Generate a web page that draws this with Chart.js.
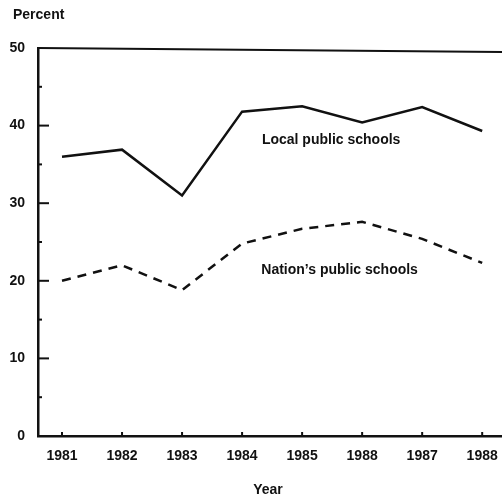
<!DOCTYPE html>
<html>
<head>
<meta charset="utf-8">
<script src="https://cdn.jsdelivr.net/npm/chart.js@4/dist/chart.umd.min.js"></script>
<style>
  body { margin: 0; background: #fff; }
  #line-chart { display: block; }
</style>
</head>
<body>
<canvas id="line-chart" width="502" height="498"></canvas>
<script>
// values
var years = ['1981', '1982', '1983', '1984', '1985', '1988', '1987', '1988'];
var localSchools = [36, 36.9, 31, 41.8, 42.5, 40.4, 42.4, 39.3];
var nationSchools = [20, 22, 18.8, 24.8, 26.7, 27.6, 25.4, 22.3];
var yTicks = [0, 10, 20, 30, 40, 50];

var FONT = '"Liberation Sans", Arial, sans-serif';
var INK = '#111';

function toPoints(arr) {
	return arr.map(function (v, i) { return { x: i, y: v }; });
}

// inward tick marks, top frame line and text labels
var decorations = {
	id: 'decorations',
	afterDraw: function (chart) {
		var ctx = chart.ctx;
		var area = chart.chartArea;
		var xs = chart.scales.x, ys = chart.scales.y;
		ctx.save();
		ctx.strokeStyle = INK;
		ctx.lineWidth = 2;
		ctx.beginPath();
		ctx.moveTo(area.left, area.top);
		ctx.lineTo(area.right, area.top + 4);
		ctx.stroke();

		ctx.lineWidth = 2;
		ys.ticks.forEach(function (t) {
			if (t.value === 0 || t.value === 50) return;
			var y = ys.getPixelForValue(t.value);
			var len = t.value % 10 === 0 ? 11 : 4;
			ctx.beginPath();
			ctx.moveTo(area.left, y);
			ctx.lineTo(area.left + len, y);
			ctx.stroke();
		});
		years.forEach(function (y, i) {
			var x = xs.getPixelForValue(i);
			ctx.beginPath();
			ctx.moveTo(x, area.bottom);
			ctx.lineTo(x, area.bottom - 4);
			ctx.stroke();
		});

		ctx.fillStyle = INK;
		ctx.textBaseline = 'middle';
		ctx.textAlign = 'left';
		ctx.font = 'bold 14px ' + FONT;
		ctx.fillText('Percent', 13, 15);
		ctx.fillText('Local public schools', xs.getPixelForValue(3.33), ys.getPixelForValue(38.1));
		ctx.fillText('Nation\u2019s public schools', xs.getPixelForValue(3.32), ys.getPixelForValue(21.4));
		ctx.textAlign = 'center';
		ctx.fillText('Year', 268, 490);
		ctx.restore();
	}
};

var chart = new Chart(document.getElementById('line-chart'), {
	type: 'line',
	data: {
		datasets: [
			{
				label: 'Local public schools',
				data: toPoints(localSchools),
				borderColor: INK,
				borderWidth: 2.5,
				pointRadius: 0,
				fill: false,
				tension: 0
			},
			{
				label: "Nation's public schools",
				data: toPoints(nationSchools),
				borderColor: INK,
				borderWidth: 2.5,
				borderDash: [9, 7],
				pointRadius: 0,
				fill: false,
				tension: 0
			}
		]
	},
	options: {
		responsive: false,
		animation: false,
		layout: { padding: { top: 48, right: 0, left: 0, bottom: 0 } },
		plugins: {
			legend: { display: false },
			tooltip: { enabled: false }
		},
		scales: {
			x: {
				type: 'linear',
				min: -0.4,
				max: 7.33,
				afterFit: function (s) {
					s.height = 62;
					s.paddingLeft = 0;
					s.paddingRight = 0;
				},
				grid: { display: true, drawOnChartArea: false, drawTicks: false },
				border: { display: true, color: INK, width: 2.5 },
				ticks: {
					stepSize: 1,
					includeBounds: false,
					autoSkip: false,
					maxRotation: 0,
					padding: 12,
					color: INK,
					font: { family: FONT, size: 14, weight: 'bold' },
					callback: function (v) { return years[v] !== undefined ? years[v] : ''; }
				}
			},
			y: {
				min: 0,
				max: 50,
				afterFit: function (s) { s.width = 38; },
				grid: { display: true, drawOnChartArea: false, drawTicks: false },
				border: { display: true, color: INK, width: 2.5 },
				ticks: {
					stepSize: 5,
					padding: 13,
					color: INK,
					font: { family: FONT, size: 14, weight: 'bold' },
					callback: function (v) { return yTicks.indexOf(v) >= 0 ? String(v) : ''; }
				}
			}
		}
	},
	plugins: [decorations]
});
</script>
</body>
</html>
